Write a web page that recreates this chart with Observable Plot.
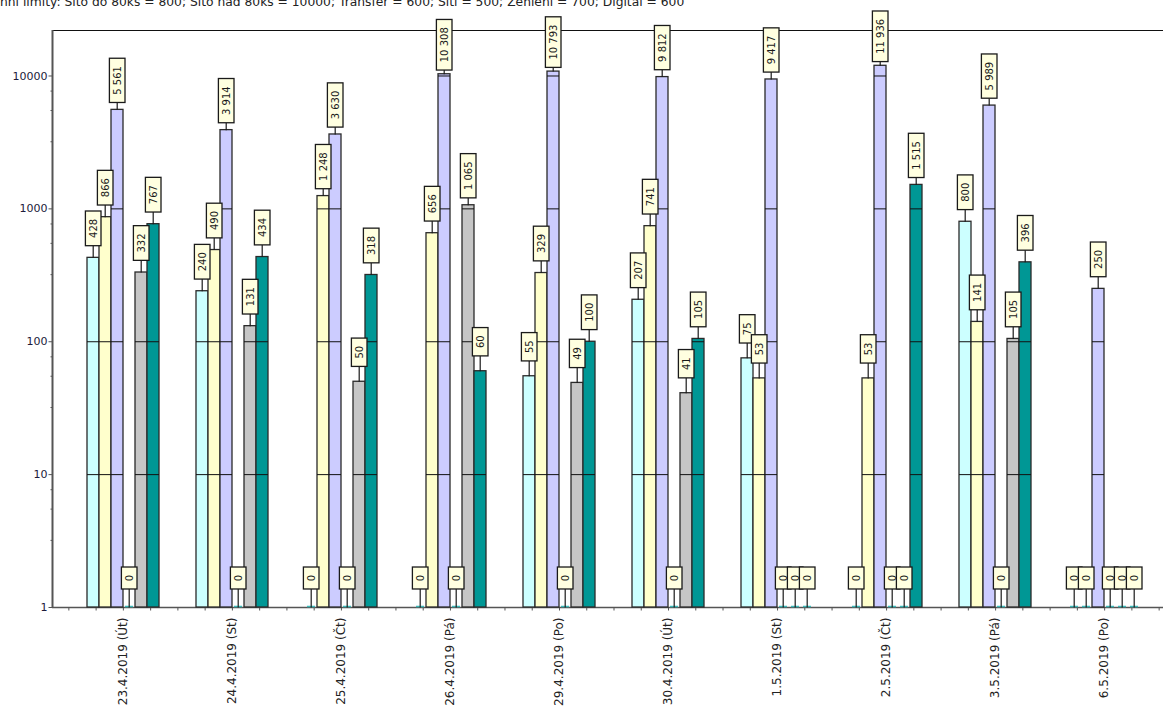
<!DOCTYPE html>
<html><head><meta charset="utf-8">
<script src="https://cdn.jsdelivr.net/npm/d3@7"></script>
<script src="https://cdn.jsdelivr.net/npm/@observablehq/plot@0.6"></script>
<style>
html,body{margin:0;padding:0;background:#fff;overflow:hidden;width:1163px;height:713px;}
#wrap{position:relative;width:1163px;height:713px;overflow:hidden;}
#title{position:absolute;left:-17px;top:-5px;font-family:"DejaVu Sans";font-size:12.3px;line-height:14px;white-space:nowrap;color:#222;z-index:3}
.layer{position:absolute;left:0;top:0;}
</style></head><body>
<div id="wrap"><div id="title"></div><div id="base" class="layer"></div><div id="bars" class="layer"></div></div>
<script>
// ---- data ----
const titleText = "Denní limity: Síto do 80ks = 800; Síto nad 80ks = 10000; Transfer = 600; Síti = 500; Zehlení = 700; Digital = 600";
const dates = ["23.4.2019 (Út)", "24.4.2019 (St)", "25.4.2019 (Čt)", "26.4.2019 (Pá)", "29.4.2019 (Po)",
               "30.4.2019 (Út)", "1.5.2019 (St)", "2.5.2019 (Čt)", "3.5.2019 (Pá)", "6.5.2019 (Po)"];
const seriesNames = ["Síto do 80ks", "Transfer", "Síto nad 80ks", "Síti", "Zehlení", "Digital"];
const seriesColors = ["#ccffff", "#ffffcc", "#ccccff", "#66cccc", "#c6c6c6", "#009795"];
const sitoDo80 =   [428, 240, 0, 0, 55, 207, 75, 0, 800, 0];
const transfer =   [866, 490, 1248, 656, 329, 741, 53, 53, 141, 0];
const sitoNad80 =  [5561, 3914, 3630, 10308, 10793, 9812, 9417, 11936, 5989, 250];
const siti =       [0, 0, 0, 0, 0, 0, 0, 0, 0, 0];
const zehleni =    [332, 131, 50, 1065, 49, 41, 0, 0, 105, 0];
const digital =    [767, 434, 318, 60, 100, 105, 0, 1515, 396, 0];
const yMajorTicks = [1, 10, 100, 1000, 10000];
const yMinorTicks = [3.2, 5.5, 7.7, 32, 55, 77, 320, 550, 770, 3200, 5500, 7700];
const yDomain = [1, 22000];

// ---- layout ----
const W = 1175, H = 713, mT = 30, mB = 106, mL = 52, mR = 0;
const padInner = 0.34, padOuter = 0.32;
const half = padOuter + (1 - padInner) / 2;
const xMin = -half, xMax = dates.length - 1 + half;
const xQuarterTicks = d3.range(-0.5, dates.length - 0.5 + 0.01, 0.25);

const seriesValues = [sitoDo80, transfer, sitoNad80, siti, zehleni, digital];
const rows = [];
dates.forEach((date, i) => seriesNames.forEach((s, j) => rows.push({date, series: s, value: seriesValues[j][i]})));
const nonzero = rows.filter(d => d.value > 0);
const zeros = rows.filter(d => d.value === 0);
const gridSegs = [];
nonzero.forEach(d => yMajorTicks.forEach(l => { if (l > yDomain[0] && l < d.value) gridSegs.push({date: d.date, series: d.series, level: l}); }));

const fmt = d3.formatLocale({decimal: ",", thousands: "\u00a0", grouping: [3], currency: ["", ""]}).format(",d");

document.getElementById("title").textContent = titleText;

const tickLeft = len => ({draw(ctx) { ctx.moveTo(-len, 0); ctx.lineTo(0, 0); }});
const tickDown = {draw(ctx) { ctx.moveTo(0, 0); ctx.lineTo(0, 3); }};

const base = Plot.plot({
  width: W, height: H, marginTop: mT, marginBottom: mB, marginLeft: mL, marginRight: mR,
  x: {type: "linear", domain: [xMin, xMax], axis: null},
  y: {type: "log", domain: yDomain, axis: null},
  style: {background: "white", maxWidth: "none", overflow: "visible", fontFamily: "DejaVu Sans"},
  marks: [
    Plot.ruleY([yDomain[1]], {stroke: "#111", strokeWidth: 1}),
    Plot.ruleY([yDomain[0]], {stroke: "#555", strokeWidth: 1.5}),
    Plot.ruleX([xMin], {stroke: "#555", strokeWidth: 2}),
    Plot.dot(yMinorTicks, {y: d => d, frameAnchor: "left", symbol: tickLeft(2), stroke: "#555", fill: "none", strokeWidth: 1}),
    Plot.dot(yMajorTicks, {y: d => d, frameAnchor: "left", symbol: tickLeft(4), stroke: "#555", fill: "none", strokeWidth: 1}),
    Plot.text(yMajorTicks, {y: d => d, frameAnchor: "left", dx: -5, textAnchor: "end", text: d => String(d), fontSize: 11, fill: "#1c1c3a"}),
    Plot.dot(xQuarterTicks, {x: d => d, frameAnchor: "bottom", symbol: tickDown, stroke: "#555", fill: "none", strokeWidth: 1})
  ]
});
document.getElementById("base").appendChild(base);

const bars = Plot.plot({
  width: W, height: H, marginTop: mT, marginBottom: mB, marginLeft: mL, marginRight: mR,
  fx: {domain: dates, paddingInner: padInner, paddingOuter: padOuter, axis: "bottom", tickRotate: -90, tickSize: 0, tickPadding: 10, label: null},
  x: {domain: seriesNames, padding: 0, axis: null},
  y: {type: "log", domain: yDomain, axis: null},
  color: {domain: seriesNames, range: seriesColors},
  style: {background: "transparent", maxWidth: "none", overflow: "visible", fontFamily: "DejaVu Sans", fontSize: "12px", color: "#222"},
  marks: [
    Plot.barY(nonzero, {fx: "date", x: "series", y1: yDomain[0], y2: "value", fill: "series", stroke: "#2a2a2a", strokeWidth: 1.3}),
    Plot.tickY(gridSegs, {fx: "date", x: "series", y: "level", stroke: "#111", strokeWidth: 1}),
    Plot.tickY(zeros, {fx: "date", x: "series", y: yDomain[0], dy: -1, insetLeft: 2, insetRight: 2, stroke: "#3bb8b8", strokeWidth: 1.5}),
    Plot.text(nonzero, {fx: "date", x: "series", y: "value", text: d => fmt(d.value), rotate: -90, textAnchor: "middle", lineAnchor: "middle", dy: -29.5, fontSize: 10, fill: "#1a1a1a"}),
    Plot.text(zeros, {fx: "date", x: "series", frameAnchor: "bottom", text: d => fmt(d.value), rotate: -90, textAnchor: "middle", lineAnchor: "middle", dy: -29.5, fontSize: 10, fill: "#1a1a1a"})
  ]
});
document.getElementById("bars").appendChild(bars);

// boxes + connectors behind each value label (every text that is not a date label)
const NS = "http://www.w3.org/2000/svg";
const dateSet = new Set(dates);
Array.from(bars.querySelectorAll("text")).filter(t => !dateSet.has(t.textContent.trim())).forEach(t => {
  const g = t.parentNode;
  const r = t.getBoundingClientRect();
  const m = g.getScreenCTM();
  const padX = 2.3, padY = 7.8;
  const cx = r.left + r.width / 2 - m.e;
  const cy = r.top + r.height / 2 - m.f;
  const top = r.top - padY - m.f, bottom = r.bottom + padY - m.f;
  const line = document.createElementNS(NS, "line");
  line.setAttribute("x1", cx); line.setAttribute("x2", cx);
  line.setAttribute("y1", bottom); line.setAttribute("y2", cy + 29.5);
  line.setAttribute("stroke", "#1a1a1a"); line.setAttribute("stroke-width", "1.2");
  const rect = document.createElementNS(NS, "rect");
  rect.setAttribute("x", r.left - padX - m.e); rect.setAttribute("y", top);
  rect.setAttribute("width", r.width + 2 * padX); rect.setAttribute("height", bottom - top);
  rect.setAttribute("fill", "#ffffe0"); rect.setAttribute("stroke", "#1a1a1a"); rect.setAttribute("stroke-width", "1.3");
  g.insertBefore(line, t);
  g.insertBefore(rect, t);
});
</script>
</body></html>
